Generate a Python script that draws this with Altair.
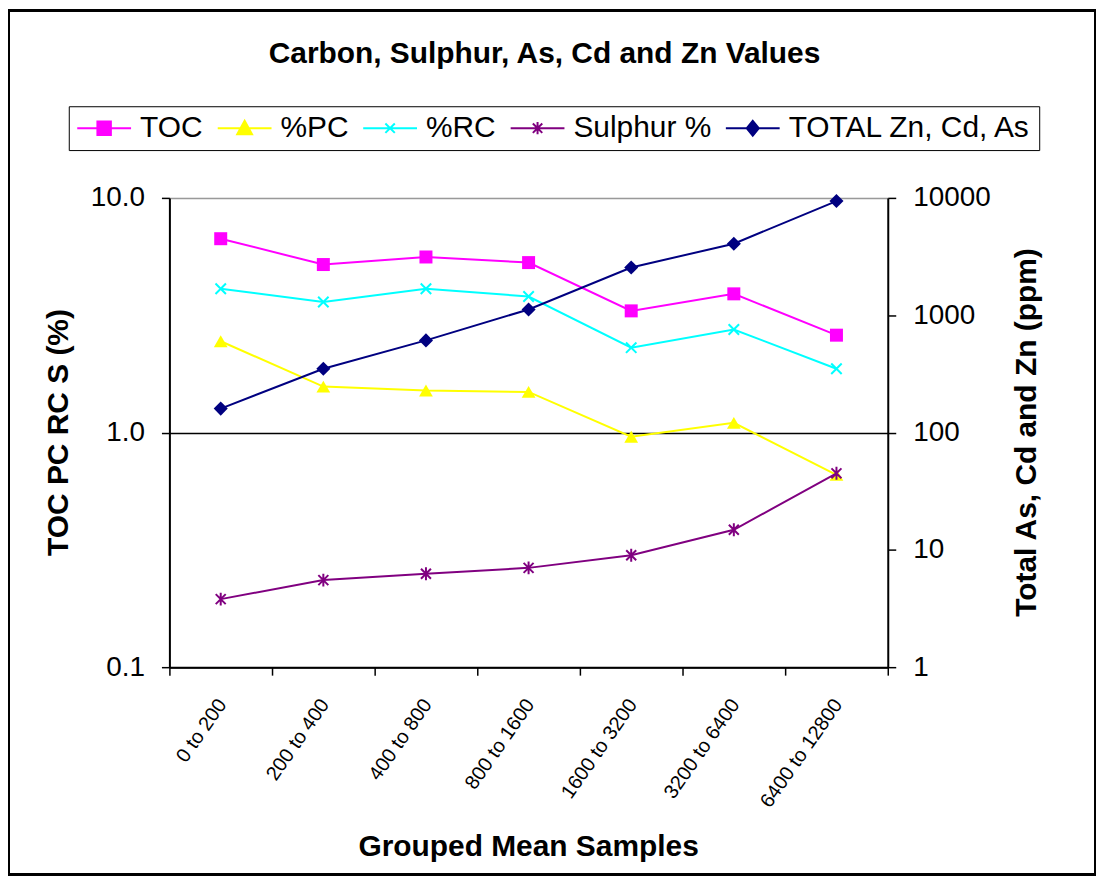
import altair as alt
import pandas as pd

categories = ["0 to 200", "200 to 400", "400 to 800", "800 to 1600",
              "1600 to 3200", "3200 to 6400", "6400 to 12800"]
toc = [6.7, 5.2, 5.6, 5.3, 3.3, 3.9, 2.6]
pc = [2.45, 1.57, 1.51, 1.49, 0.96, 1.10, 0.66]
rc = [4.1, 3.6, 4.1, 3.8, 2.3, 2.75, 1.87]
sulphur = [0.195, 0.235, 0.25, 0.265, 0.30, 0.385, 0.67]
total = [160, 350, 610, 1120, 2550, 4070, 9400]

series_names = ["TOC", "%PC", "%RC", "Sulphur %", "TOTAL Zn, Cd, As"]
series_colors = ["#FF00FF", "#FFFF00", "#00FFFF", "#800080", "#000080"]

FONT = "Liberation Sans"

left_values = {"TOC": toc, "%PC": pc, "%RC": rc, "Sulphur %": sulphur}
rows = []
for name, vals in left_values.items():
    for c, v in zip(categories, vals):
        rows.append({"cat": c, "series": name, "value": v})
df_left = pd.DataFrame(rows)
df_right = pd.DataFrame({"cat": categories, "series": "TOTAL Zn, Cd, As", "value": total})

x_enc = alt.X(
    "cat:N", sort=categories,
    scale=alt.Scale(type="band", domain=categories, paddingInner=0, paddingOuter=0),
    axis=alt.Axis(
        title="Grouped Mean Samples", titleFont=FONT, titleFontSize=30, titleFontWeight="bold",
        titleColor="black", titleX=360, titleY=180, titleBaseline="middle", titleAlign="center",
        labelAngle=-55, labelAlign="right", labelBaseline="top", labelFontSize=20,
        labelFont=FONT, labelColor="black", labelPadding=20, labelOffset=-7, tickBand="extent",
        tickSize=8, tickColor="black", tickWidth=1.5, domainColor="black", domainWidth=2,
        grid=False, labelOverlap=False,
    ),
)

left_axis = alt.Axis(
    title="TOC PC RC S (%)", titleFont=FONT, titleFontSize=30, titleFontWeight="bold",
    titleColor="black", titleX=-111, titleY=235, titleAngle=-90, titleAlign="center",
    titleBaseline="middle",
    values=[0.1, 1, 10], format=".1f", labelFont=FONT, labelFontSize=28, labelColor="black",
    labelPadding=17, tickSize=8, tickColor="black", tickWidth=1.5, domainColor="black",
    domainWidth=2, grid=True,
    gridColor={"condition": {"test": "datum.value > 5", "value": "#999999"}, "value": "black"},
    gridWidth=1.5, labelOverlap=False, labelFlush=False,
)
right_axis = alt.Axis(
    orient="right",
    title="Total As, Cd and Zn (ppm)", titleFont=FONT, titleFontSize=30, titleFontWeight="bold",
    titleColor="black", titleX=139, titleY=235, titleAngle=-90, titleAlign="center",
    titleBaseline="middle",
    values=[1, 10, 100, 1000, 10000], format="d", labelFont=FONT, labelFontSize=28,
    labelColor="black", labelPadding=17, tickSize=8, tickColor="black", tickWidth=1.5,
    domainColor="black", domainWidth=2, grid=False, labelOverlap=False, labelFlush=False,
)

y_left = alt.Y("value:Q", scale=alt.Scale(type="log", domain=[0.1, 10]), axis=left_axis)
y_right = alt.Y("value:Q", scale=alt.Scale(type="log", domain=[1, 10000]), axis=right_axis)

xpath = "M-1,-1L1,1M-1,1L1,-1"
astpath = "M-1,-1L1,1M-1,1L1,-1M0,-1.3L0,1.3"
marker_spec = {
    "TOC": dict(shape="square", size=170, filled=True),
    "%PC": dict(shape="triangle-up", size=190, filled=True),
    "%RC": dict(shape=xpath, size=110, filled=False),
    "Sulphur %": dict(shape=astpath, size=100, filled=False),
    "TOTAL Zn, Cd, As": dict(shape="diamond", size=200, filled=True),
}

def series_layers(df, name, color, y):
    sub = df[df["series"] == name]
    base = alt.Chart(sub).encode(x=x_enc, y=y)
    line = base.mark_line(color=color, strokeWidth=2)
    spec = marker_spec[name]
    pt = base.mark_point(color=color, opacity=1, strokeWidth=2, **spec)
    return [line, pt]

left_layers = []
for name, color in zip(series_names[:4], series_colors[:4]):
    left_layers += series_layers(df_left, name, color, y_left)

# legend symbols: line segment plus marker
leg_paths = [
    "M-2,0L2,0M-0.5,-0.5L0.5,-0.5L0.5,0.5L-0.5,0.5Z",
    "M-2,0L2,0M0,-0.55L0.55,0.45L-0.55,0.45Z",
    "M-2,0L2,0M-0.35,-0.35L0.35,0.35M-0.35,0.35L0.35,-0.35",
    "M-2,0L2,0M-0.35,-0.35L0.35,0.35M-0.35,0.35L0.35,-0.35M0,-0.45L0,0.45",
    "M-2,0L2,0M0,-0.55L0.45,0L0,0.55L-0.45,0Z",
]
legend = alt.Legend(
    title=None, orient="none", legendX=-101, legendY=-92, direction="horizontal",
    columns=5, symbolSize=729, symbolStrokeWidth=2, symbolOpacity=1, symbolOffset=13.5,
    labelOffset=21, labelFont=FONT, labelFontSize=30, labelColor="black", columnPadding=10,
    padding=7, strokeColor="black", fillColor="white",
    labelLimit=400,
)
dummy = alt.Chart(df_left).mark_point(filled=True, opacity=0).encode(
    x=x_enc, y=y_left,
    color=alt.Color("series:N", scale=alt.Scale(domain=series_names, range=series_colors), legend=legend),
    stroke=alt.Stroke("series:N", scale=alt.Scale(domain=series_names, range=series_colors), legend=legend),
    shape=alt.Shape("series:N", scale=alt.Scale(domain=series_names, range=leg_paths), legend=legend),
)
left_layers.append(dummy)

right_layers = series_layers(df_right, "TOTAL Zn, Cd, As", series_colors[4], y_right)

border = alt.Chart(df_right).mark_rect(filled=False, stroke="black", strokeWidth=2).encode(
    x=alt.value(-161), x2=alt.value(929), y=alt.value(-188), y2=alt.value(679)
)

chart = alt.layer(
    alt.layer(*left_layers),
    alt.layer(*right_layers),
    border,
).resolve_scale(y="independent").properties(
    width=721, height=471,
    title=alt.TitleParams(
        "Carbon, Sulphur, As, Cd and Zn Values", font=FONT, fontSize=30, fontWeight="bold",
        color="black", anchor="middle", dx=16, offset=0, dy=60,
    ),
    autosize=alt.AutoSizeParams(type="none"),
    padding={"left": 162, "top": 189, "right": 209, "bottom": 210},
).configure_view(stroke=None).configure_legend(strokeWidth=2, cornerRadius=0).configure(background="white")

chart.save("out.html", embed_options={"renderer": "svg", "actions": False})
